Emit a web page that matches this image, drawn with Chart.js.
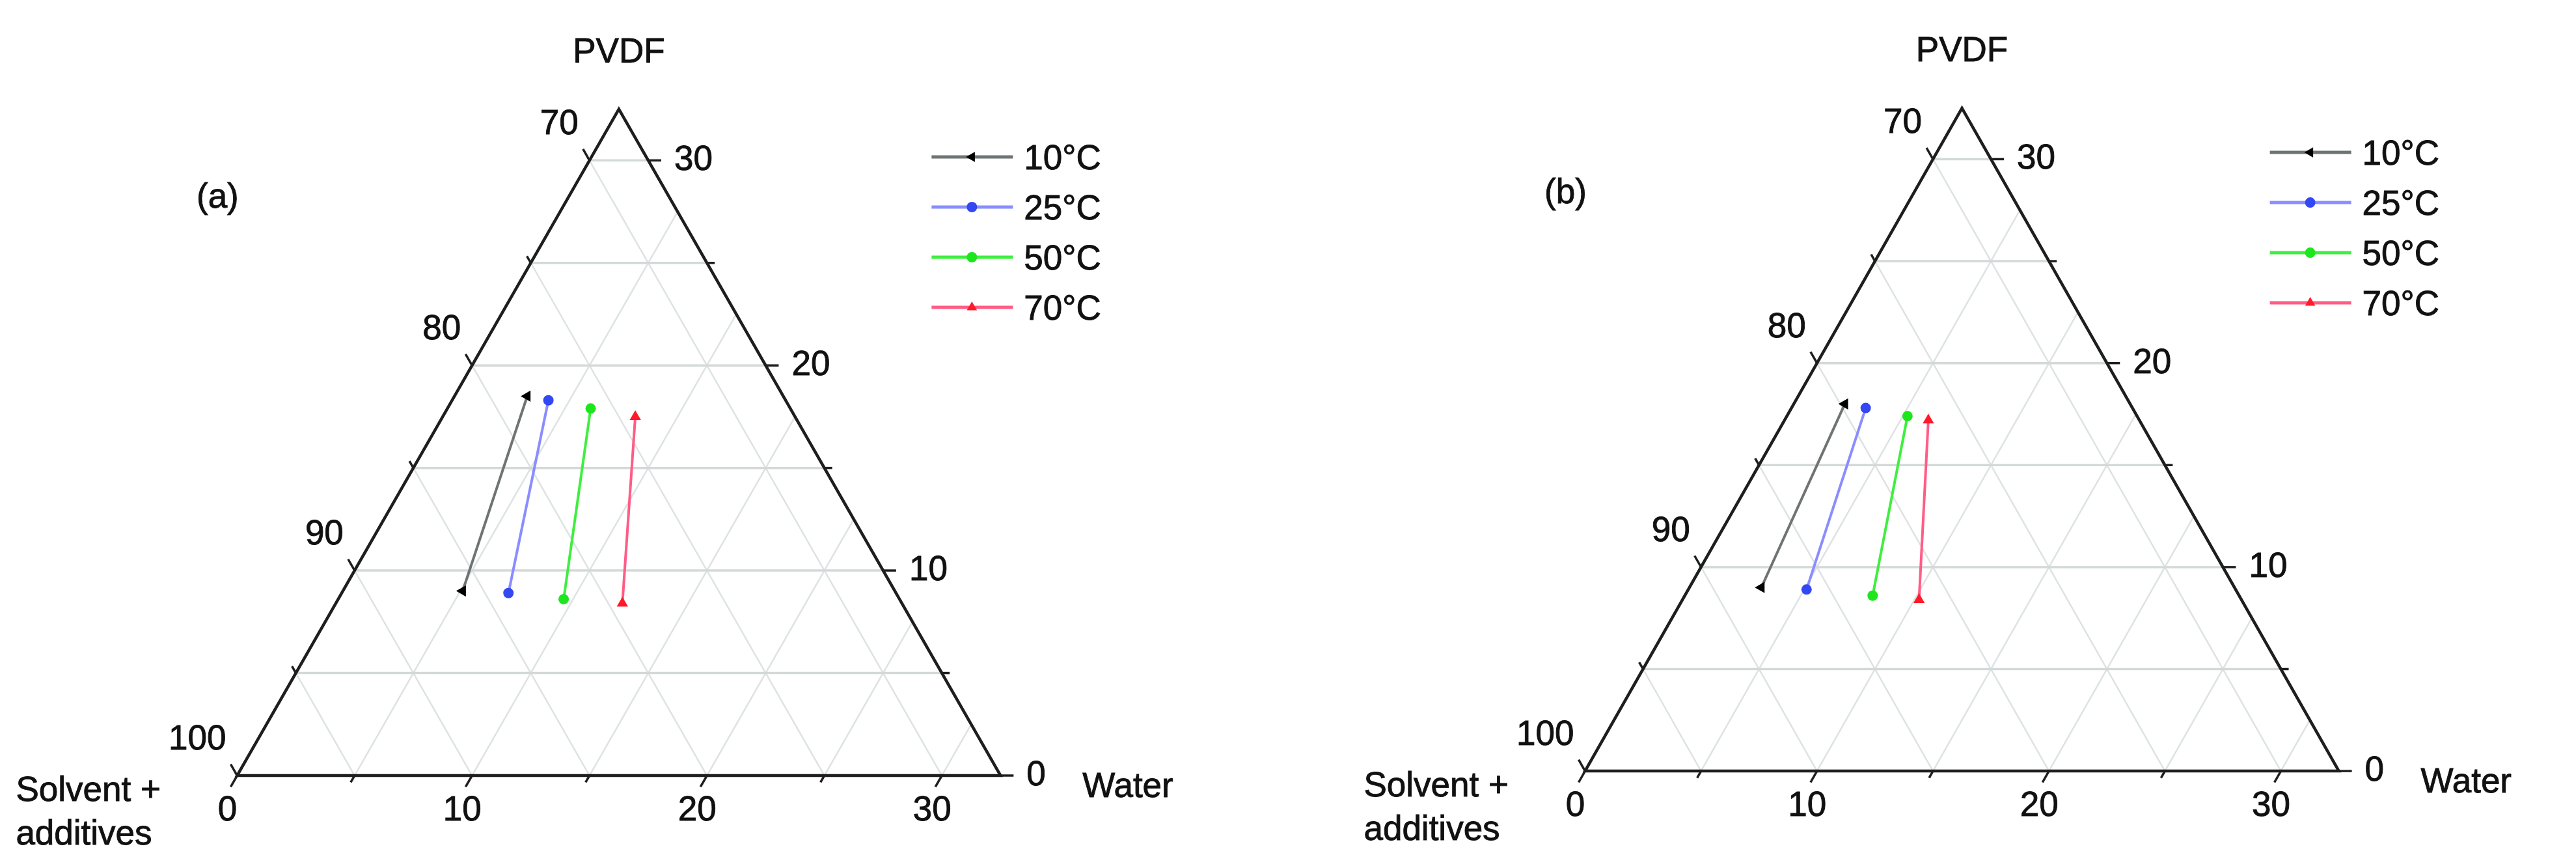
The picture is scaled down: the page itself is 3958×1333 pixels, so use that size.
<!DOCTYPE html>
<html lang="en">
<head>
  <meta charset="UTF-8" />
  <title>Ternary diagram - PVDF / Solvent + additives / Water</title>
  <script src="https://cdn.jsdelivr.net/npm/chart.js"></script>
  <style>
    html, body { margin: 0; padding: 0; background: #fff; }
    #wrap { position: relative; width: 3958px; height: 1333px; }
    canvas { position: absolute; top: 0; }
    #chartA { left: 0; }
    #chartB { left: 1979px; }
  </style>
</head>
<body>
  <div id="wrap">
    <canvas id="chartA" width="1979" height="1333"></canvas>
    <canvas id="chartB" width="1979" height="1333"></canvas>
  </div>

  <script>
    // compositions in wt% (upper point / lower point of each tie line)
    const temps = ['10°C', '25°C', '50°C', '70°C'];

    const waterTopA = [3.1, 4.1, 6.1, 8.2];
    const pvdfTopA  = [18.5, 18.3, 17.9, 17.5];
    const waterLowA = [5.1, 7.1, 9.6, 12.2];
    const pvdfLowA  = [9.0, 8.9, 8.6, 8.4];

    const waterTopB = [2.2, 3.2, 5.2, 6.2];
    const pvdfTopB  = [18.0, 17.8, 17.4, 17.2];
    const waterLowB = [3.1, 5.1, 8.1, 10.2];
    const pvdfLowB  = [9.0, 8.9, 8.6, 8.4];

    const axisSpan = 32.5;                 // each axis covers 32.5 wt%
    const gridSteps = [5, 10, 15, 20, 25, 30];
    const tickSteps = [0, 5, 10, 15, 20, 25, 30];
    const waterTicks = [0, 10, 20, 30];    // bottom axis
    const pvdfTicks = [0, 10, 20, 30];     // right axis
    const solventTicks = [100, 90, 80, 70]; // left axis

    const lineColors = ['#6f7373', '#8a8dff', '#3fee3f', '#ff5c86'];
    const markColors = ['#000000', '#3347f2', '#1de61d', '#ff1a2a'];
    const markStyles = ['triangle', 'circle', 'circle', 'triangle'];
    const markRotation = [270, 0, 0, 0];
    const markRadius = [10, 8, 8, 10];

    const FONT = '53px "Liberation Sans", Arial, sans-serif';
    const W = 1979, H = 1333;

    // ternary (water, pvdf) -> cartesian value space
    function tern(w, p) { return { x: w + p / 2, y: p }; }

    function px(chart, w, p) {
      const c = tern(w, p);
      return { x: chart.scales.x.getPixelForValue(c.x), y: chart.scales.y.getPixelForValue(c.y) };
    }

    function line(ctx, a, b) {
      ctx.beginPath();
      ctx.moveTo(a.x, a.y);
      ctx.lineTo(b.x, b.y);
      ctx.stroke();
    }

    // tick from point a in the direction of point b, given length
    function tick(ctx, a, b, len) {
      const dx = b.x - a.x, dy = b.y - a.y;
      const d = Math.hypot(dx, dy);
      line(ctx, a, { x: a.x + dx / d * len, y: a.y + dy / d * len });
    }

    // slightly heavier text, like the scanned figure
    function text(ctx, str, x, y) {
      ctx.fillText(str, x, y);
      ctx.strokeText(str, x, y);
    }

    const ternaryPlugin = {
      id: 'ternary',
      beforeDatasetsDraw(chart) {
        const ctx = chart.ctx;
        const S = axisSpan;
        const tag = chart.options.plugins.ternary.tag;
        ctx.save();

        // grid
        ctx.lineWidth = 2.5;
        ctx.strokeStyle = '#dde2e2';
        gridSteps.forEach(v => {
          line(ctx, px(chart, v, 0), px(chart, v, S - v));      // constant water
          line(ctx, px(chart, v, 0), px(chart, 0, v));          // constant solvent
        });
        ctx.lineWidth = 3.5;
        ctx.strokeStyle = '#d3d9d8';
        gridSteps.forEach(v => {
          line(ctx, px(chart, 0, v), px(chart, S - v, v));      // constant PVDF
        });

        // frame
        const bl = px(chart, 0, 0), br = px(chart, S, 0), ap = px(chart, 0, S);
        ctx.strokeStyle = '#1e1e1e';
        ctx.lineWidth = 4.5;
        ctx.lineJoin = 'miter';
        ctx.beginPath();
        ctx.moveTo(ap.x, ap.y);
        ctx.lineTo(bl.x, bl.y);
        ctx.lineTo(br.x, br.y);
        ctx.closePath();
        ctx.stroke();

        // ticks
        ctx.lineWidth = 3.5;
        tickSteps.forEach(v => {
          const len = v % 10 === 0 ? 20 : 12;
          tick(ctx, px(chart, 0, v), px(chart, -1, v + 1), len);          // left (solvent)
          tick(ctx, px(chart, v, 0), px(chart, v, -1), len);              // bottom (water)
          tick(ctx, px(chart, S - v, v), px(chart, S - v + 1, v), len);   // right (PVDF)
        });

        // tick labels
        ctx.fillStyle = '#111';
        ctx.strokeStyle = '#111';
        ctx.lineWidth = 0.9;
        ctx.font = FONT;
        ctx.textBaseline = 'alphabetic';
        ctx.textAlign = 'right';
        solventTicks.forEach(s => {
          const a = px(chart, 0, 100 - s);
          text(ctx, String(s), a.x - 17, a.y - 40);
        });
        ctx.textAlign = 'center';
        waterTicks.forEach(w => {
          const a = px(chart, w, 0);
          text(ctx, String(w), a.x - 15, a.y + 69);
        });
        ctx.textAlign = 'left';
        pvdfTicks.forEach(p => {
          const a = px(chart, S - p, p);
          text(ctx, String(p), a.x + 40, a.y + 15);
        });

        // axis titles
        ctx.textAlign = 'center';
        text(ctx, 'PVDF', ap.x, ap.y - 72);
        text(ctx, tag, bl.x - 30, bl.y - 872);
        ctx.textAlign = 'left';
        text(ctx, 'Solvent +', bl.x - 340, bl.y + 39);
        text(ctx, 'additives', bl.x - 340, bl.y + 106);
        text(ctx, 'Water', br.x + 126, br.y + 33);

        // legend
        chart.data.datasets.forEach((ds, i) => {
          const y = bl.y - 950 + i * 77;
          ctx.strokeStyle = ds.borderColor;
          ctx.lineWidth = 5;
          line(ctx, { x: br.x - 106, y }, { x: br.x + 19, y });
          ctx.fillStyle = ds.pointBackgroundColor;
          Chart.helpers.drawPoint(ctx, {
            pointStyle: ds.pointStyle,
            radius: ds.pointStyle === 'circle' ? 8 : 9,
            rotation: ds.pointRotation,
            borderWidth: 0
          }, br.x - 44, y);
          ctx.fillStyle = '#111';
          ctx.strokeStyle = '#111';
          ctx.lineWidth = 0.9;
          text(ctx, ds.label, br.x + 36, y + 19);
        });

        ctx.restore();
      }
    };

    function makeDatasets(waterTop, pvdfTop, waterLow, pvdfLow) {
      return temps.map((t, i) => ({
        label: t,
        data: [tern(waterTop[i], pvdfTop[i]), tern(waterLow[i], pvdfLow[i])],
        showLine: true,
        borderColor: lineColors[i],
        borderWidth: 4,
        pointBackgroundColor: markColors[i],
        pointBorderColor: markColors[i],
        pointBorderWidth: 0,
        pointStyle: markStyles[i],
        pointRotation: markRotation[i],
        pointRadius: markRadius[i],
        clip: false
      }));
    }

    function renderPanel(id, tag, origin, kx, ky, datasets) {
      const ctx = document.getElementById(id).getContext('2d');
      new Chart(ctx, {
        type: 'scatter',
        data: { datasets },
        options: {
          responsive: false,
          animation: false,
          devicePixelRatio: 1,
          layout: { padding: 0 },
          plugins: {
            legend: { display: false },
            tooltip: { enabled: false },
            ternary: { tag }
          },
          scales: {
            x: { type: 'linear', display: false, min: -origin[0] / kx, max: (W - origin[0]) / kx },
            y: { type: 'linear', display: false, min: -(H - origin[1]) / ky, max: origin[1] / ky }
          }
        },
        plugins: [ternaryPlugin]
      });
    }

    renderPanel('chartA', '(a)', [358, 1199], 36.46, 31.97,
      makeDatasets(waterTopA, pvdfTopA, waterLowA, pvdfLowA));
    renderPanel('chartB', '(b)', [451, 1192], 36.0, 31.8,
      makeDatasets(waterTopB, pvdfTopB, waterLowB, pvdfLowB));
  </script>
</body>
</html>
